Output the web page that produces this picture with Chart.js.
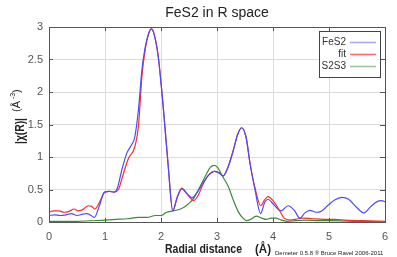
<!DOCTYPE html>
<html>
<head>
<meta charset="utf-8">
<script src="https://cdn.jsdelivr.net/npm/chart.js@4/dist/chart.umd.min.js"></script>
<style>
  html, body { margin:0; padding:0; background:#fff; }
  #wrap { width:397px; height:257px; }
</style>
</head>
<body>
<div id="wrap"><canvas id="grafico" width="397" height="257"></canvas></div>
<script>
// datos (R en Angstrom, |chi(R)|)
const rFeS2 = [0, 0.1, 0.2, 0.3, 0.4, 0.5, 0.6, 0.67, 0.75, 0.81, 0.9, 0.99, 1.08, 1.16, 1.22, 1.3, 1.39, 1.47, 1.53, 1.6, 1.66, 1.72, 1.78, 1.83, 1.88, 1.95, 2.04, 2.13, 2.21, 2.29, 2.37, 2.46, 2.55, 2.65, 2.75, 2.85, 2.95, 3.03, 3.11, 3.2, 3.29, 3.37, 3.44, 3.52, 3.59, 3.68, 3.78, 3.85, 3.91, 4.0, 4.14, 4.27, 4.38, 4.48, 4.57, 4.66, 4.77, 4.85, 5.0, 5.1, 5.23, 5.35, 5.5, 5.62, 5.75, 5.85, 5.94, 6.0];
const yFeS2 = [0.10, 0.11, 0.10, 0.11, 0.13, 0.10, 0.12, 0.13, 0.10, 0.07, 0.25, 0.46, 0.47, 0.46, 0.52, 0.80, 1.06, 1.18, 1.30, 1.75, 2.35, 2.70, 2.90, 2.97, 2.88, 2.55, 1.77, 0.85, 0.17, 0.38, 0.51, 0.44, 0.37, 0.46, 0.60, 0.72, 0.78, 0.76, 0.71, 0.85, 1.10, 1.35, 1.45, 1.30, 0.90, 0.49, 0.13, 0.30, 0.35, 0.28, 0.17, 0.25, 0.18, 0.06, 0.14, 0.18, 0.15, 0.16, 0.27, 0.34, 0.38, 0.35, 0.22, 0.14, 0.24, 0.31, 0.33, 0.31];

const rFit = [0, 0.08, 0.18, 0.27, 0.35, 0.45, 0.52, 0.6, 0.7, 0.76, 0.82, 0.9, 1.0, 1.08, 1.16, 1.24, 1.32, 1.42, 1.53, 1.6, 1.66, 1.72, 1.78, 1.83, 1.88, 1.95, 2.04, 2.13, 2.21, 2.29, 2.37, 2.47, 2.58, 2.67, 2.75, 2.85, 2.95, 3.03, 3.11, 3.2, 3.29, 3.37, 3.44, 3.52, 3.59, 3.68, 3.78, 3.85, 3.91, 4.0, 4.1, 4.2, 4.3, 4.45, 4.55, 4.7, 4.9, 5.1, 5.3, 5.6, 6.0];
const yFit = [0.15, 0.17, 0.17, 0.15, 0.16, 0.20, 0.17, 0.19, 0.25, 0.24, 0.20, 0.30, 0.46, 0.47, 0.46, 0.50, 0.72, 0.98, 1.15, 1.50, 2.25, 2.66, 2.90, 2.97, 2.88, 2.55, 1.77, 0.85, 0.17, 0.38, 0.52, 0.43, 0.33, 0.42, 0.58, 0.72, 0.78, 0.76, 0.71, 0.85, 1.10, 1.35, 1.45, 1.30, 0.90, 0.52, 0.25, 0.34, 0.39, 0.33, 0.20, 0.06, 0.03, 0.05, 0.06, 0.05, 0.04, 0.04, 0.03, 0.02, 0.01];

const rS2S3 = [0, 0.5, 1.0, 1.2, 1.4, 1.6, 1.75, 1.9, 2.0, 2.1, 2.21, 2.35, 2.45, 2.58, 2.7, 2.8, 2.88, 2.95, 3.02, 3.1, 3.2, 3.29, 3.38, 3.45, 3.53, 3.6, 3.7, 3.8, 3.88, 3.97, 4.05, 4.15, 4.25, 4.4, 4.6, 4.8, 5.0, 5.5, 6.0];
const yS2S3 = [0.01, 0.01, 0.03, 0.04, 0.05, 0.07, 0.07, 0.10, 0.10, 0.15, 0.17, 0.20, 0.25, 0.36, 0.55, 0.72, 0.84, 0.87, 0.83, 0.70, 0.55, 0.34, 0.16, 0.07, 0.02, 0.04, 0.09, 0.06, 0.04, 0.06, 0.06, 0.03, 0.01, 0.02, 0.03, 0.02, 0.02, 0.01, 0.0];

const xTicks = [0, 1, 2, 3, 4, 5, 6];
const yTicks = [0, 0.5, 1, 1.5, 2, 2.5, 3];

const series = [
    {label: 'FeS2', r: rFeS2, y: yFeS2, color: '#4a4aff', legendColor: '#a8a8ff'},
    {label: 'fit', r: rFit, y: yFit, color: '#ff2a2a', legendColor: '#ff6a6a'},
    {label: 'S2S3', r: rS2S3, y: yS2S3, color: '#3a8a3a', legendColor: '#98c898'}
];

const fuente = '"Liberation Sans", Arial, sans-serif';

// marcas de graduacion hacia dentro, titulos, leyenda y nota
const decoracion = {
    id: 'decoracion',
    afterDraw(chart) {
        const ctx = chart.ctx;
        const a = chart.chartArea;
        const sx = chart.scales.x, sy = chart.scales.y;
        ctx.save();
        ctx.strokeStyle = '#555';
        ctx.lineWidth = 1;
        ctx.beginPath();
        xTicks.forEach(v => {
            const px = Math.round(sx.getPixelForValue(v)) + 0.5;
            ctx.moveTo(px, a.top); ctx.lineTo(px, a.top + 4);
            ctx.moveTo(px, a.bottom); ctx.lineTo(px, a.bottom - 4);
        });
        yTicks.forEach(v => {
            const py = Math.round(sy.getPixelForValue(v)) + 0.5;
            ctx.moveTo(a.left, py); ctx.lineTo(a.left + 4, py);
            ctx.moveTo(a.right, py); ctx.lineTo(a.right - 5, py);
        });
        ctx.stroke();
        ctx.strokeRect(a.left + 0.5, a.top + 0.5, a.right - a.left, a.bottom - a.top);

        // titulo
        ctx.fillStyle = '#222';
        ctx.textAlign = 'center';
        ctx.textBaseline = 'middle';
        ctx.font = '14px ' + fuente;
        ctx.fillText('FeS2 in R space', 217, 13);

        // titulo eje x
        ctx.font = 'bold 12px ' + fuente;
        ctx.textAlign = 'left';
        ctx.fillText('Radial distance', 165, 250, 77);
        ctx.fillText('(Å)', 255, 250, 16);
        ctx.font = '6px ' + fuente;
        ctx.fillText('Demeter 0.5.8 ® Bruce Ravel 2006-2011', 275, 253, 110);

        // titulo eje y
        ctx.save();
        ctx.translate(20, 131);
        ctx.rotate(-Math.PI / 2);
        ctx.textAlign = 'center';
        ctx.font = 'bold 13px ' + fuente;
        ctx.fillText('|χ(R)|', 0, 0, 26);
        ctx.textAlign = 'left';
        ctx.font = '11px ' + fuente;
        ctx.fillText('(Å', 19, -3);
        ctx.font = '7px ' + fuente;
        ctx.fillText('-3', 32, -7);
        ctx.font = '11px ' + fuente;
        ctx.fillText(')', 38, -3);
        ctx.restore();

        // leyenda
        ctx.fillStyle = '#fff';
        ctx.fillRect(319.5, 31.5, 61, 46);
        ctx.strokeStyle = '#444';
        ctx.lineWidth = 1;
        ctx.strokeRect(319.5, 31.5, 61, 46);
        ctx.font = '10px ' + fuente;
        ctx.textAlign = 'right';
        series.forEach((s, i) => {
            const yy = 42.5 + i * 12;
            ctx.fillStyle = '#333';
            ctx.fillText(s.label, 346, yy);
            ctx.strokeStyle = s.legendColor;
            ctx.lineWidth = 1.6;
            ctx.beginPath();
            ctx.moveTo(350, yy); ctx.lineTo(376, yy);
            ctx.stroke();
        });
        ctx.restore();
    }
};

const ctx = document.getElementById('grafico').getContext('2d');
new Chart(ctx, {
    type: 'line',
    data: {
        datasets: series.map(s => ({
            label: s.label,
            data: s.r.map((r, i) => ({x: r, y: s.y[i]})),
            borderColor: s.color,
            backgroundColor: s.color,
            borderWidth: 1.2,
            pointRadius: 0,
            fill: false,
            cubicInterpolationMode: 'monotone'
        }))
    },
    options: {
        responsive: false,
        animation: false,
        layout: {padding: {top: 27, right: 12, left: 0, bottom: 0}},
        plugins: {
            legend: {display: false},
            tooltip: {enabled: false}
        },
        scales: {
            x: {
                type: 'linear',
                min: 0, max: 6,
                afterBuildTicks: s => { s.ticks = xTicks.map(v => ({value: v})); },
                afterFit: s => { s.height = 35; },
                grid: {color: '#dcdcdc', drawTicks: false},
                border: {display: false},
                ticks: {padding: 8, color: '#555', font: {size: 11, family: fuente},
                        callback: v => String(v)}
            },
            y: {
                min: 0, max: 3,
                afterBuildTicks: s => { s.ticks = yTicks.map(v => ({value: v})); },
                afterFit: s => { s.width = 49; },
                grid: {color: '#dcdcdc', drawTicks: false},
                border: {display: false},
                ticks: {padding: 6, color: '#555', font: {size: 11, family: fuente},
                        callback: v => String(v)}
            }
        }
    },
    plugins: [decoracion]
});
</script>
</body>
</html>
